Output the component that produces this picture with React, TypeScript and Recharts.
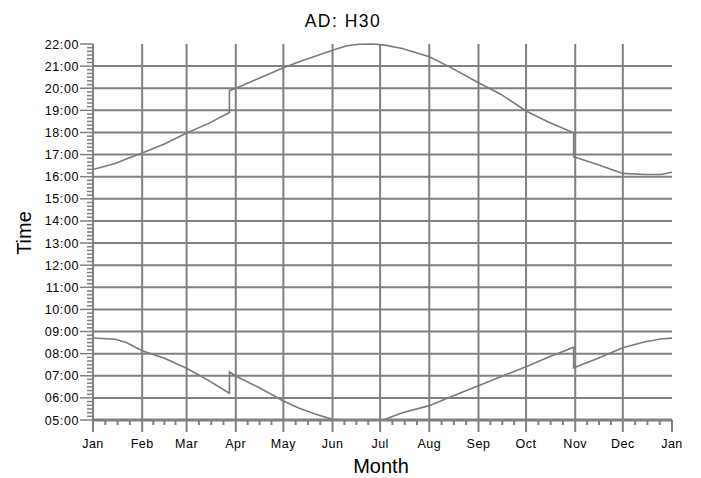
import { Line, LineChart, ReferenceLine, XAxis, YAxis } from "recharts";

// day of year (duplicated days = clock change jumps)
const days = [
  0, 14, 21, 31, 45, 59, 73, 86, 86, 90, 104, 120, 130, 140, 151, 160, 168, 176, 183,
  195, 212, 226, 243, 257, 273, 287, 303, 303, 304, 318, 334, 348, 358, 365,
];
// hours, decimal
const sunset = [
  16.33, 16.6, 16.8, 17.07, 17.48, 17.98, 18.41, 18.9, 19.89, 20.0, 20.43, 20.93, 21.2, 21.45,
  21.72, 21.92, 21.99, 22.0, 21.96, 21.8, 21.42, 20.92, 20.25, 19.73, 18.97, 18.47, 17.99,
  16.9, 16.88, 16.55, 16.15, 16.1, 16.1, 16.2,
];
const sunrise = [
  8.71, 8.65, 8.5, 8.13, 7.79, 7.34, 6.78, 6.21, 7.17, 6.99, 6.49, 5.86, 5.53, 5.27, 5.03, 5.0,
  5.0, 5.0, 5.0, 5.33, 5.65, 6.06, 6.55, 6.96, 7.41, 7.84, 8.29, 7.37, 7.39, 7.78, 8.27,
  8.54, 8.66, 8.7,
];

const monthStarts = [0, 31, 59, 90, 120, 151, 181, 212, 243, 273, 304, 334, 365];
const monthLabels = ["Jan", "Feb", "Mar", "Apr", "May", "Jun", "Jul", "Aug", "Sep", "Oct", "Nov", "Dec", "Jan"];
const hours = [5, 6, 7, 8, 9, 10, 11, 12, 13, 14, 15, 16, 17, 18, 19, 20, 21, 22];

const data = days.map((d, i) => ({ day: d, sunset: sunset[i], sunrise: sunrise[i] }));

// quarter-month minor ticks
const xTicks: number[] = [];
monthStarts.forEach((m, i) => {
  xTicks.push(m);
  const next = monthStarts[i + 1];
  if (next !== undefined) {
    for (let k = 1; k < 4; k++) xTicks.push(m + ((next - m) * k) / 4);
  }
});

// 10-minute minor ticks
const yTicks: number[] = [];
for (let i = 0; i <= (22 - 5) * 6; i++) yTicks.push(5 + i / 6);

const GRAY = "#808080";
const FONT = "'Liberation Sans', Arial, sans-serif";

const pad = (n: number) => (n < 10 ? "0" + n : "" + n);

function XTick(props: any) {
  const { x, y, payload } = props;
  const idx = monthStarts.indexOf(payload.value);
  const major = idx >= 0;
  return (
    <g>
      <line x1={x} x2={x} y1={y} y2={y + (major ? 12 : 5)} stroke={GRAY} strokeWidth={2} />
      {major ? (
        <text x={x} y={y + 28} textAnchor="middle" fontSize={12.5} fontFamily={FONT} letterSpacing={0.5} fill="#000">
          {monthLabels[idx]}
        </text>
      ) : null}
    </g>
  );
}

function YTick(props: any) {
  const { x, y, payload } = props;
  const mins = Math.round(payload.value * 60);
  const major = mins % 60 === 0;
  return (
    <g>
      <line x1={x - (major ? 13 : 6)} x2={x} y1={y} y2={y} stroke={GRAY} strokeWidth={1.5} />
      {major ? (
        <text x={x - 14} y={y + 4.5} textAnchor="end" fontSize={12.5} fontFamily={FONT} letterSpacing={0.6} fill="#000">
          {pad(mins / 60)}:00
        </text>
      ) : null}
    </g>
  );
}

export default function App() {
  return (
    <div style={{ position: "absolute", left: 0, top: 0, width: 701, height: 478, background: "#fff", fontFamily: FONT }}>
      <div
        style={{ position: "absolute", left: 0, width: 686, top: 11, fontSize: 17.5, lineHeight: "20px", textAlign: "center", letterSpacing: 1.5 }}
      >
        AD: H30
      </div>
      <LineChart width={701} height={478} data={data} margin={{ top: 44, right: 29, bottom: 0, left: 0 }}>
        <XAxis
          dataKey="day"
          type="number"
          domain={[0, 365]}
          ticks={xTicks}
          interval={0}
          tickSize={0}
          tickMargin={0}
          height={58}
          tick={(p: any) => <XTick {...p} />}
          axisLine={{ stroke: GRAY, strokeWidth: 3 }}
        />
        <YAxis
          type="number"
          domain={[5, 22]}
          ticks={yTicks}
          interval={0}
          tickSize={0}
          tickMargin={0}
          width={93}
          tick={(p: any) => <YTick {...p} />}
          axisLine={{ stroke: GRAY, strokeWidth: 2 }}
        />
        {monthStarts.slice(1, -1).map((d) => (
          <ReferenceLine key={"x" + d} x={d} stroke={GRAY} strokeWidth={2} />
        ))}
        {hours.slice(1, -1).map((h) => (
          <ReferenceLine key={"y" + h} y={h} stroke={GRAY} strokeWidth={2} />
        ))}
        <Line type="linear" dataKey="sunset" stroke="#7a7a7a" strokeWidth={1.6} dot={false} isAnimationActive={false} />
        <Line type="linear" dataKey="sunrise" stroke="#7a7a7a" strokeWidth={1.6} dot={false} isAnimationActive={false} />
      </LineChart>
      <div
        style={{ position: "absolute", left: 24, top: 233, transform: "translate(-50%, -50%) rotate(-90deg)", fontSize: 20, whiteSpace: "nowrap" }}
      >
        Time
      </div>
      <div style={{ position: "absolute", left: 281, width: 200, top: 454, fontSize: 20, lineHeight: "24px", textAlign: "center" }}>
        Month
      </div>
    </div>
  );
}
